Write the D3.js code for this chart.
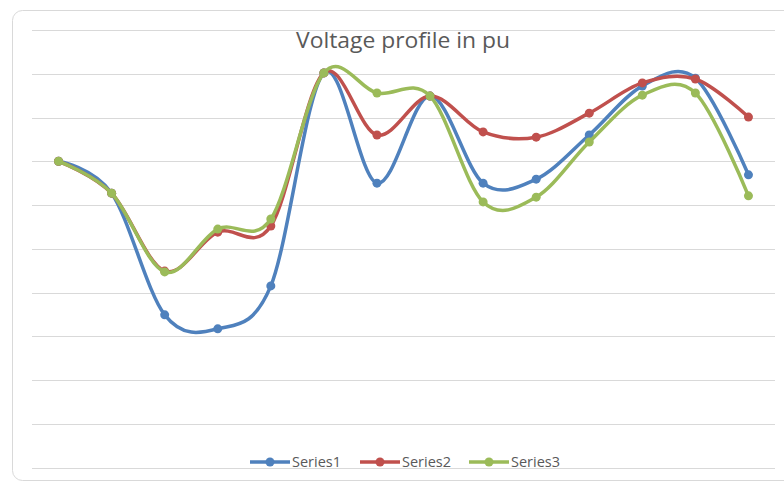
<!DOCTYPE html>
<html><head><meta charset="utf-8">
<script src="https://cdn.jsdelivr.net/npm/d3@7"></script>
<style>body{margin:0;background:#fff;}svg{display:block;}</style>
</head><body>
<svg id="c" width="784" height="484"></svg>
<script>
const categories = [1,2,3,4,5,6,7,8,9,10,11,12,13,14];
const series1 = [0.9700,0.9627,0.9349,0.9317,0.9415,0.9902,0.9650,0.9849,0.9650,0.9659,0.9760,0.9872,0.9890,0.9669];
const series2 = [0.9700,0.9627,0.9449,0.9538,0.9552,0.9902,0.9760,0.9849,0.9767,0.9755,0.9810,0.9879,0.9888,0.9801];
const series3 = [0.9700,0.9627,0.9447,0.9545,0.9568,0.9902,0.9856,0.9849,0.9607,0.9618,0.9744,0.9851,0.9856,0.9621];
const seriesNames = ["Series1","Series2","Series3"];
const yTicks = [0.90,0.91,0.92,0.93,0.94,0.95,0.96,0.97,0.98,0.99,1.00];
const title = "Voltage profile in pu";

const colors = ["#4F81BD","#C0504D","#9BBB59"];
const allSeries = [series1, series2, series3];

const svg = d3.select("#c");
svg.append("rect").attr("x",12.5).attr("y",10.5).attr("width",790).attr("height",470)
  .attr("rx",10).attr("fill","#fff").attr("stroke","#d9d9d9").attr("stroke-width",1);

const pLeft = 32, pRight = 775, pTop = 30, pBottom = 467.5;
const x = d3.scaleBand().domain(categories).range([pLeft, pRight]);
const y = d3.scaleLinear().domain([0.90, 1.00]).range([pBottom, pTop]);
const cx = d => x(d) + x.bandwidth()/2;

svg.append("g").selectAll("line").data(yTicks).join("line")
  .attr("x1",pLeft).attr("x2",pRight)
  .attr("y1",d=>Math.round(y(d))+0.5).attr("y2",d=>Math.round(y(d))+0.5)
  .attr("stroke","#d9d9d9").attr("stroke-width",1);

const line = d3.line().x((d,i)=>cx(categories[i])).y(d=>y(d)).curve(d3.curveCatmullRom.alpha(0));

allSeries.forEach((s,k)=>{
  const g = svg.append("g");
  g.append("path").attr("d", line(s)).attr("fill","none")
    .attr("stroke",colors[k]).attr("stroke-width",3.5).attr("stroke-linecap","round").attr("stroke-linejoin","round");
  g.selectAll("circle").data(s).join("circle")
    .attr("cx",(d,i)=>cx(categories[i])).attr("cy",d=>y(d)).attr("r",4.5).attr("fill",colors[k]);
});

svg.append("text").attr("x",403).attr("y",48).attr("text-anchor","middle")
  .attr("font-family","'Open Sans', sans-serif").attr("font-size",21.5)
  .attr("textLength",214).attr("lengthAdjust","spacingAndGlyphs")
  .attr("fill","#595959").text(title);

const lg = svg.append("g");
const legendX = [250, 360, 469];
seriesNames.forEach((n,k)=>{
  const lx = legendX[k], ly = 462;
  lg.append("line").attr("x1",lx).attr("x2",lx+40).attr("y1",ly).attr("y2",ly)
    .attr("stroke",colors[k]).attr("stroke-width",3.5);
  lg.append("circle").attr("cx",lx+20).attr("cy",ly).attr("r",4.5).attr("fill",colors[k]);
  lg.append("text").attr("x",lx+42).attr("y",ly+5).attr("font-family","'Open Sans', sans-serif")
    .attr("font-size",14.5).attr("fill","#595959").text(n);
});
</script>
</body></html>
